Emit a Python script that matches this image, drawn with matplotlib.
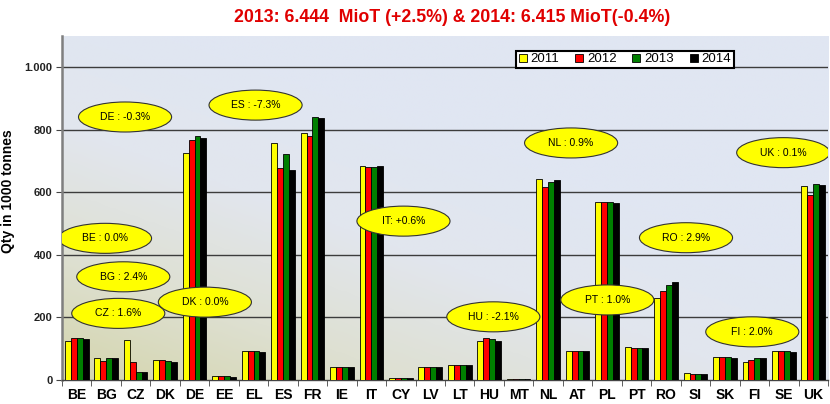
import numpy as np
import matplotlib.pyplot as plt
from matplotlib.patches import Ellipse
from matplotlib.colors import LinearSegmentedColormap

plt.rcParams['font.family'] = ['Liberation Sans', 'DejaVu Sans']

# data (1000 tonnes)
countries = ['BE', 'BG', 'CZ', 'DK', 'DE', 'EE', 'EL', 'ES', 'FR', 'IE', 'IT', 'CY', 'LV',
             'LT', 'HU', 'MT', 'NL', 'AT', 'PL', 'PT', 'RO', 'SI', 'SK', 'FI', 'SE', 'UK']
y2011 = [125, 69, 127, 63, 727, 13, 93, 758, 791, 41, 683, 8, 43,
         48, 124, 3, 642, 94, 569, 106, 261, 22, 72, 58, 93, 620]
y2012 = [133, 61, 58, 63, 767, 13, 93, 677, 780, 41, 682, 7, 43,
         48, 133, 3, 618, 94, 569, 102, 284, 18, 72, 64, 93, 591]
y2013 = [133, 69, 26, 61, 779, 13, 93, 724, 840, 41, 680, 6, 43,
         48, 130, 3, 634, 94, 569, 102, 305, 18, 72, 69, 93, 626]
y2014 = [130, 69, 26, 58, 775, 10, 89, 673, 837, 40, 683, 6, 40,
         48, 125, 3, 638, 93, 567, 102, 312, 18, 69, 69, 90, 622]
years = ['2011', '2012', '2013', '2014']
colors = ['#FFFF00', '#FF0000', '#007F00', '#000000']

# change labels and where the bubbles sit (category index, value)
bubble_text = ['DE : -0.3%', 'BE : 0.0%', 'BG : 2.4%', 'CZ : 1.6%', 'DK : 0.0%', 'ES : -7.3%',
               'IT: +0.6%', 'HU : -2.1%', 'NL : 0.9%', 'UK : 0.1%', 'RO : 2.9%', 'PT : 1.0%',
               'FI : 2.0%']
bubble_x = [1.64, 0.96, 1.58, 1.41, 4.35, 6.07, 11.09, 14.14, 16.78, 23.98, 20.68, 18.01, 22.93]
bubble_y = [841, 453, 330, 213, 249, 879, 508, 202, 758, 727, 455, 256, 154]

fig = plt.figure(figsize=(8.3, 4.04), dpi=100)
ax = fig.add_axes([0.0747, 0.0594, 0.9229, 0.8515])

n = len(countries)
x = np.arange(n)
ymax = 1100
ax.set_xlim(-0.5, n - 0.5)
ax.set_ylim(0, ymax)

# diagonal gradient background: khaki bottom-left to pale blue top-right
gx, gy = np.meshgrid(np.linspace(0, 1, 200), np.linspace(0, 1, 200))
s = np.clip((gx * 0.8 + gy) / 1.1, 0, 1)
cmap = LinearSegmentedColormap.from_list('bg', ['#D4D5AC', '#DEE0D2', '#E2E6EE', '#E0E6F2'])
ax.imshow(s, cmap=cmap, extent=[-0.5, n - 0.5, 0, ymax], origin='lower',
          aspect='auto', zorder=0, interpolation='bilinear')

w = 0.2
series = [y2011, y2012, y2013, y2014]
for i, (vals, c, lab) in enumerate(zip(series, colors, years)):
    ax.bar(x + (i - 1.5) * w, vals, w, color=c, edgecolor='black', linewidth=0.6,
           label=lab, zorder=3)

for yv in range(200, 1001, 200):
    ax.axhline(yv, color='#3C3C3C', lw=1.0, zorder=1)

for t, bx, by in zip(bubble_text, bubble_x, bubble_y):
    ax.add_patch(Ellipse((bx, by), 3.16, 96, facecolor='#FFFF00', edgecolor='#333333',
                         lw=0.8, zorder=5))
    ax.text(bx, by, t, ha='center', va='center', fontsize=7.5, zorder=6)

ax.set_yticks(range(0, 1001, 200))
ax.set_yticklabels(['0', '200', '400', '600', '800', '1.000'], fontsize=8, fontweight='bold',
                   color='#222222')
ax.set_xticks(x)
ax.set_xticklabels(countries, fontsize=10, fontweight='bold')
ax.set_xticks(np.arange(-0.5, n, 1), minor=True)
ax.tick_params(axis='x', which='major', length=0, pad=6)
ax.tick_params(axis='x', which='minor', length=4, color='#444444', direction='out')
ax.tick_params(axis='y', length=4, color='#444444', direction='out', pad=3)

for sp in ['top', 'right']:
    ax.spines[sp].set_visible(False)
ax.spines['left'].set_color('#7F7F7F')
ax.spines['left'].set_linewidth(1.8)
ax.spines['bottom'].set_color('#444444')
ax.spines['bottom'].set_linewidth(1.0)

ax.set_ylabel('Qty in 1000 tonnes', fontsize=10, fontweight='bold', labelpad=6)
ax.yaxis.set_label_coords(-0.062, 0.55)

leg = ax.legend(loc='upper left', bbox_to_anchor=(0.584, 0.976), ncol=4, fontsize=9.5,
                handlelength=0.6, handleheight=0.6, handletextpad=0.3,
                columnspacing=1.2, borderpad=0.2, fancybox=False, framealpha=1)
leg.get_frame().set_edgecolor('black')
leg.get_frame().set_linewidth(1.5)
leg.set_zorder(7)

fig.text(0.545, 0.978, '2013: 6.444  MioT (+2.5%) & 2014: 6.415 MioT(-0.4%)',
         ha='center', va='top', color='#E00000', fontsize=12.8, fontweight='bold')

fig.savefig('out.png', dpi=100)
